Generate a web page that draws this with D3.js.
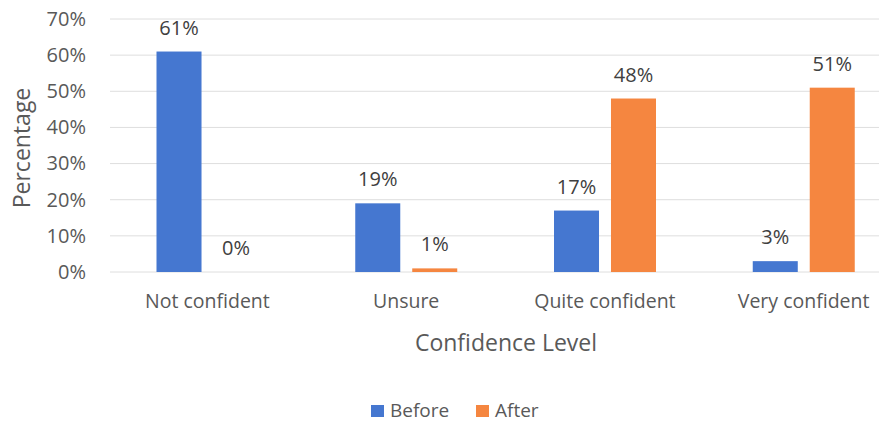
<!DOCTYPE html>
<html><head><meta charset="utf-8">
<script src="https://cdn.jsdelivr.net/npm/d3@7"></script>
<style>body{margin:0;background:#fff;}svg{display:block;}text{font-family:"Open Sans",sans-serif;}</style>
</head><body>
<script>
const categories = ["Not confident", "Unsure", "Quite confident", "Very confident"];
const seriesNames = ["Before", "After"];
const before = [61, 19, 17, 3];
const after = [0, 1, 48, 51];
const yTicks = [0, 10, 20, 30, 40, 50, 60, 70];
const colors = ["#4577D0", "#F58640"];

const W = 879, H = 423;
const svg = d3.select("body").append("svg").attr("width", W).attr("height", H);
const x = d3.scaleBand().domain(categories).range([108, 903]).paddingInner(0).paddingOuter(0);
const xs = d3.scaleBand().domain(seriesNames).range([48.5, 150.5]).paddingInner(0.21).paddingOuter(0);
const y = d3.scaleLinear().domain([0, 70]).range([272, 19]);

// gridlines
svg.append("g").selectAll("line").data(yTicks).join("line")
  .attr("x1", 110).attr("x2", W).attr("y1", d => y(d)).attr("y2", d => y(d))
  .attr("stroke", "#dedede").attr("stroke-width", 1);

// y axis labels
const yAxis = d3.axisLeft(y).tickValues(yTicks).tickFormat(d => d + "%").tickSize(0).tickPadding(0);
const yg = svg.append("g").attr("transform", "translate(86,0)").call(yAxis);
yg.select(".domain").remove();
yg.selectAll("text").attr("fill", "#595959").style("font-size", "20px").attr("font-family", "Open Sans");

// x axis labels
const xAxis = d3.axisBottom(x).tickSize(0).tickPadding(0);
const xg = svg.append("g").attr("transform", "translate(0,294)").call(xAxis);
xg.select(".domain").remove();
xg.selectAll("text").attr("fill", "#595959").style("font-size", "19.5px").attr("font-family", "Open Sans");

const data = categories.map((c, i) => ({cat: c, vals: [{s: "Before", v: before[i]}, {s: "After", v: after[i]}]}));
const groups = svg.append("g").selectAll("g").data(data).join("g")
  .attr("transform", d => `translate(${x(d.cat)},0)`);
groups.selectAll("rect").data(d => d.vals).join("rect")
  .attr("x", d => xs(d.s)).attr("width", xs.bandwidth())
  .attr("y", d => y(d.v)).attr("height", d => y(0) - y(d.v))
  .attr("fill", d => colors[seriesNames.indexOf(d.s)]);
groups.selectAll("text").data(d => d.vals).join("text")
  .attr("x", d => xs(d.s) + xs.bandwidth() / 2).attr("y", d => y(d.v) - 17)
  .attr("text-anchor", "middle").attr("fill", "#404040").style("font-size", "20px")
  .text(d => d.v + "%");

// axis titles
svg.append("text").attr("transform", "translate(30,148) rotate(-90)")
  .attr("text-anchor", "middle").attr("fill", "#595959").style("font-size", "23px").text("Percentage");
svg.append("text").attr("x", 506).attr("y", 351)
  .attr("text-anchor", "middle").attr("fill", "#595959").style("font-size", "23px").text("Confidence Level");

// legend
const leg = svg.append("g").selectAll("g").data(seriesNames).join("g")
  .attr("transform", (d, i) => `translate(${[371, 476][i]},0)`);
leg.append("rect").attr("x", 0).attr("y", 405).attr("width", 13).attr("height", 12)
  .attr("fill", (d, i) => colors[i]);
leg.append("text").attr("x", 19).attr("y", 417).attr("fill", "#595959").style("font-size", "19px").text(d => d);
</script>
</body></html>
